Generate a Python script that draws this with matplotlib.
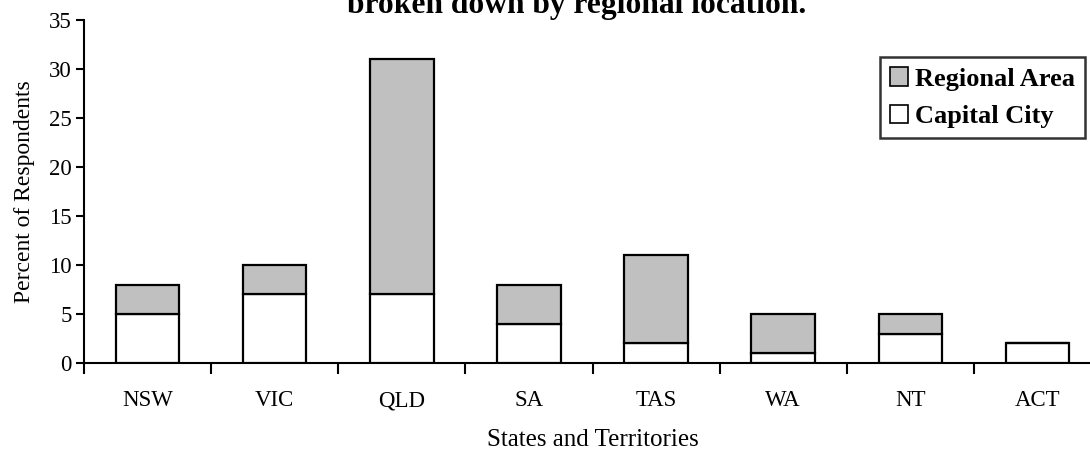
import matplotlib
matplotlib.use("Agg")
import matplotlib.pyplot as plt
import numpy as np

states = ["NSW", "VIC", "QLD", "SA", "TAS", "WA", "NT", "ACT"]
capital_city = [5, 7, 7, 4, 2, 1, 3, 2]
regional_area = [3, 3, 24, 4, 9, 4, 2, 0]

plt.rcParams["font.family"] = ["Liberation Serif", "DejaVu Serif"]

fig = plt.figure(figsize=(10.9, 4.53), dpi=100)
ax = fig.add_axes([84 / 1090, 90 / 453, 1017 / 1090, 343 / 453])

x = np.arange(len(states))
ax.bar(x, capital_city, width=0.5, color="white", edgecolor="black",
       linewidth=1.6, label="Capital City", zorder=3)
ax.bar(x, regional_area, width=0.5, bottom=capital_city, color="#c0c0c0",
       edgecolor="black", linewidth=1.6, label="Regional Area", zorder=3)

ax.set_xlim(-0.5, len(states) - 0.5)
ax.set_ylim(0, 35)
ax.set_yticks(range(0, 36, 5))
ax.set_xticks(x)
ax.set_xticklabels(states)
ax.set_xticks(np.arange(-0.5, len(states), 1.0), minor=True)
ax.tick_params(axis="x", which="major", length=0, pad=19.5, labelsize=16.5)
ax.tick_params(axis="x", which="minor", length=8, width=1.5, direction="out")
ax.tick_params(axis="y", length=6, width=1.5, direction="out", labelsize=16.5, pad=3)

for side in ["top", "right"]:
    ax.spines[side].set_visible(False)
for side in ["left", "bottom"]:
    ax.spines[side].set_linewidth(1.5)

ax.set_xlabel("States and Territories", fontsize=18, labelpad=13)
ax.set_ylabel("Percent of Respondents", fontsize=17, labelpad=10)

handles, labels = ax.get_legend_handles_labels()
leg = ax.legend(handles[::-1], labels[::-1], loc="upper right",
                bbox_to_anchor=(0.984, 0.892), borderaxespad=0,
                prop={"weight": "bold", "size": 19}, fancybox=False,
                frameon=True, handlelength=0.7, handleheight=0.7,
                handletextpad=0.25, borderpad=0.38, labelspacing=0.54)
leg.get_frame().set_edgecolor("black")
leg.get_frame().set_linewidth(1.8)
for h in leg.legend_handles:
    h.set_linewidth(1.2)

# the reference picture shows only the lower line of the title, cut at the top
fig.text(577 / 1090, 1 - 13 / 453, "broken down by regional location.",
         ha="center", va="baseline", fontsize=22.7, fontweight="bold")

fig.savefig("out.png", dpi=100)
